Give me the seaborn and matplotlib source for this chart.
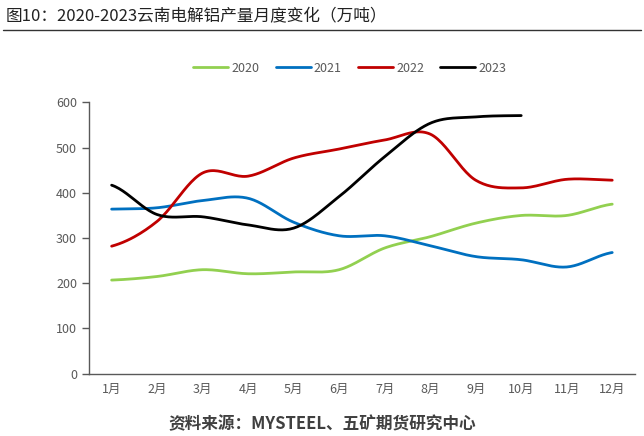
import numpy as np
import pandas as pd
import matplotlib
matplotlib.use("Agg")
import matplotlib.pyplot as plt
import seaborn as sns

months = ["1月", "2月", "3月", "4月", "5月", "6月", "7月", "8月", "9月", "10月", "11月", "12月"]
y2020 = [207, 215, 230, 221, 225, 230, 278, 303, 333, 350, 350, 375]
y2021 = [364, 367, 383, 388, 335, 305, 305, 283, 259, 252, 236, 268]
y2022 = [282, 337, 444, 437, 477, 497, 517, 530, 428, 411, 430, 428]
y2023 = [417, 352, 347, 329, 322, 392, 480, 554, 568, 571]

series = {"2020": y2020, "2021": y2021, "2022": y2022, "2023": y2023}
colors = {"2020": "#92D050", "2021": "#0070C0", "2022": "#C00000", "2023": "#000000"}


def smooth(vals, n=24):
    """Catmull-Rom curve through the points, like Excel's smoothed line."""
    p = np.array(vals, dtype=float)
    xs, ys = [], []
    for i in range(len(p) - 1):
        p0 = p[i - 1] if i > 0 else p[i]
        p1, p2 = p[i], p[i + 1]
        p3 = p[i + 2] if i + 2 < len(p) else p[i + 1]
        t = np.linspace(0, 1, n, endpoint=False)
        seg = 0.5 * ((2 * p1) + (-p0 + p2) * t + (2 * p0 - 5 * p1 + 4 * p2 - p3) * t ** 2
                     + (-p0 + 3 * p1 - 3 * p2 + p3) * t ** 3)
        xs.extend(i + t)
        ys.extend(seg)
    xs.append(len(p) - 1)
    ys.append(p[-1])
    return xs, ys


rows = []
for year, vals in series.items():
    xs, ys = smooth(vals)
    for x, y in zip(xs, ys):
        rows.append({"x": x, "value": y, "year": year})
df = pd.DataFrame(rows)

sns.set_style("white")
plt.rcParams["font.family"] = ["Noto Sans CJK SC", "DejaVu Sans"]

fig = plt.figure(figsize=(6.44, 4.36), dpi=100)
ax = fig.add_axes([0.138, 0.143, 0.848, 0.622])

sns.lineplot(data=df, x="x", y="value", hue="year", palette=colors,
             linewidth=2.0, ax=ax, sort=False, estimator=None)

ax.set_xlim(-0.5, 11.5)
ax.set_ylim(0, 600)
ax.set_yticks(np.arange(0, 601, 100))
ax.set_xticks(np.arange(-0.5, 12, 1))
ax.set_xticklabels([])
ax.set_xticks(np.arange(12), minor=True)
ax.set_xticklabels(months, minor=True)
ax.tick_params(axis="x", which="major", length=5, width=1, color="#595959", direction="out")
ax.tick_params(axis="x", which="minor", length=0, pad=7, labelsize=9, labelcolor="#595959")
ax.tick_params(axis="y", length=5, width=1, color="#595959", direction="out",
               labelsize=9, labelcolor="#595959", left=True)
ax.set_xlabel("")
ax.set_ylabel("")
for s in ["top", "right"]:
    ax.spines[s].set_visible(False)
for s in ["left", "bottom"]:
    ax.spines[s].set_color("#595959")
    ax.spines[s].set_linewidth(1)

handles, labels = ax.get_legend_handles_labels()
ax.legend(handles, labels, loc="center", bbox_to_anchor=(0.478, 1.127), ncol=4, frameon=False,
          fontsize=9, labelcolor="#595959", handlelength=2.8, columnspacing=1.3, handletextpad=0.25)

fig.text(0.008, 0.962, "图10：2020-2023云南电解铝产量月度变化（万吨）", fontsize=12, color="#222222",
         va="center", ha="left")
fig.add_artist(plt.Line2D([0.005, 0.995], [0.932, 0.932], color="#333333", linewidth=1))
fig.text(0.5, 0.027, "资料来源：MYSTEEL、五矿期货研究中心", fontsize=12, fontweight="bold",
         color="#404040", ha="center", va="center")

fig.savefig("out.png", dpi=100)
